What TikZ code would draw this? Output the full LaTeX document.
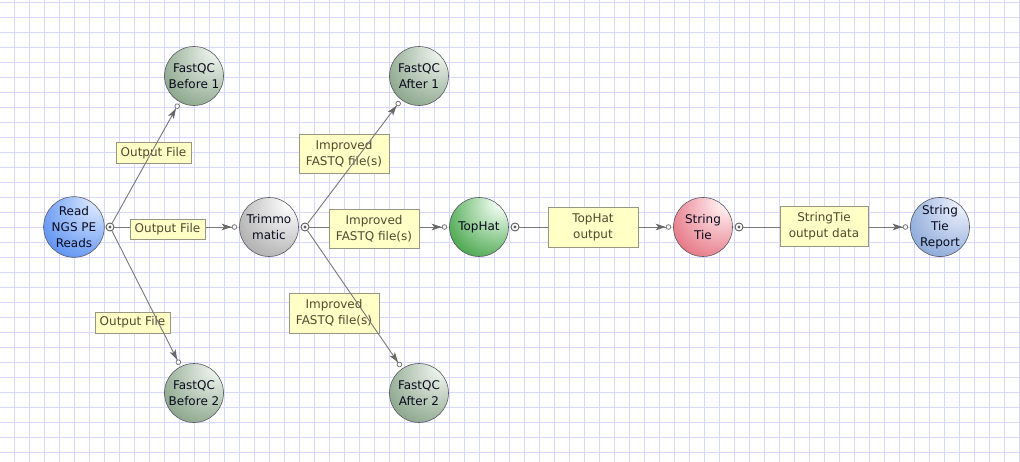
\documentclass[tikz,border=0pt]{standalone}
\usepackage{fontspec}
\newfontfamily\dv{DejaVu Sans}
\usetikzlibrary{arrows.meta}
\definecolor{gridc}{RGB}{216,216,252}
\definecolor{nodeline}{RGB}{90,90,100}
\definecolor{nodetext}{RGB}{10,10,30}
\definecolor{labfill}{RGB}{255,255,198}
\definecolor{labline}{RGB}{150,150,130}
\definecolor{labtext}{RGB}{85,70,50}
\definecolor{conncol}{RGB}{120,120,120}
\definecolor{tipcol}{RGB}{105,105,105}
\definecolor{portcol}{RGB}{95,95,95}
% node colours
\definecolor{readhi}{RGB}{215,230,255}
\definecolor{readbase}{RGB}{70,130,240}
\definecolor{readdk}{RGB}{30,80,190}
\definecolor{fqhi}{RGB}{235,242,235}
\definecolor{fqbase}{RGB}{120,150,120}
\definecolor{fqdk}{RGB}{75,100,75}
\definecolor{trhi}{RGB}{252,252,252}
\definecolor{trbase}{RGB}{160,160,160}
\definecolor{trdk}{RGB}{105,105,105}
\definecolor{thhi}{RGB}{240,252,240}
\definecolor{thbase}{RGB}{40,150,45}
\definecolor{thdk}{RGB}{15,100,20}
\definecolor{sthi}{RGB}{255,238,240}
\definecolor{stbase}{RGB}{225,95,112}
\definecolor{stdk}{RGB}{185,45,65}
\definecolor{rphi}{RGB}{235,240,252}
\definecolor{rpbase}{RGB}{120,155,210}
\definecolor{rpdk}{RGB}{70,105,170}
\pgfdeclareradialshading{shRead}{\pgfpoint{22bp}{24bp}}{color(0bp)=(readhi); color(6bp)=(readhi); color(50bp)=(readbase); color(88bp)=(readdk)}
\pgfdeclareradialshading{shFq}{\pgfpoint{22bp}{24bp}}{color(0bp)=(fqhi); color(6bp)=(fqhi); color(50bp)=(fqbase); color(88bp)=(fqdk)}
\pgfdeclareradialshading{shTr}{\pgfpoint{22bp}{24bp}}{color(0bp)=(trhi); color(6bp)=(trhi); color(50bp)=(trbase); color(88bp)=(trdk)}
\pgfdeclareradialshading{shTh}{\pgfpoint{22bp}{24bp}}{color(0bp)=(thhi); color(6bp)=(thhi); color(50bp)=(thbase); color(88bp)=(thdk)}
\pgfdeclareradialshading{shSt}{\pgfpoint{22bp}{24bp}}{color(0bp)=(sthi); color(6bp)=(sthi); color(50bp)=(stbase); color(88bp)=(stdk)}
\pgfdeclareradialshading{shRp}{\pgfpoint{22bp}{24bp}}{color(0bp)=(rphi); color(6bp)=(rphi); color(50bp)=(rpbase); color(88bp)=(rpdk)}
\tikzset{
  proc/.style={circle, minimum size=59pt, inner sep=0pt, draw=nodeline, line width=0.6pt,
    font=\dv\fontsize{12}{16}\selectfont, text=nodetext, align=center},
  lab/.style={draw=labline, fill=labfill, line width=0.7pt, inner sep=0pt,
    font=\dv\fontsize{12}{16}\selectfont, text=labtext, align=center},
  lab1/.style={lab, minimum width=75pt, minimum height=21pt},
  lab2/.style={lab, minimum width=90pt, minimum height=39pt},
  port/.style={circle, draw=portcol, fill=white, line width=0.9pt, minimum size=8pt, inner sep=0pt,
    path picture={\fill[portcol] (path picture bounding box.center) circle (1.7pt);}},
  conn/.style={draw=conncol, line width=0.9pt,
    -{Stealth[length=10pt,width=6.5pt,inset=2.5pt,color=tipcol] Circle[length=5.5pt,fill=white,line width=0.8pt]},
    shorten >=2pt},
  gline/.style={draw=gridc, line width=0.9pt}
}
\begin{document}
\begin{tikzpicture}[x=1pt,y=-1pt]
\useasboundingbox (0,0) rectangle (1020,462);
\fill[white] (0,0) rectangle (1020,462);
\foreach \i in {0,...,67} {\draw[gline] (14.3+15*\i,0) -- (14.3+15*\i,462);}
\foreach \j in {0,...,30} {\draw[gline] (0,2.3+15*\j) -- (1020,2.3+15*\j);}

% process nodes
\node[proc, shading=shRead] (read) at (74,227) {Read\\NGS PE\\Reads};
\node[proc, shading=shFq] (b1) at (194,76) {FastQC\\Before 1};
\node[proc, shading=shFq] (b2) at (194,393) {FastQC\\Before 2};
\node[proc, shading=shTr] (trim) at (269,227) {Trimmo\\matic};
\node[proc, shading=shFq] (a1) at (419,76) {FastQC\\After 1};
\node[proc, shading=shFq] (a2) at (419,393) {FastQC\\After 2};
\node[proc, shading=shTh] (top) at (479,227) {TopHat};
\node[proc, shading=shSt] (st) at (703,227) {String\\Tie};
\node[proc, shading=shRp] (rep) at (940,227) {String\\Tie\\Report};

% output ports
\node[port] (pR) at (110,227) {};
\node[port] (pT) at (305,227) {};
\node[port] (pH) at (515,227) {};
\node[port] (pS) at (739,227) {};

% horizontal connectors (under their labels)
\draw[conn] (pR) -- (trim);
\draw[conn] (pT) -- (top);
\draw[conn] (pH) -- (st);
\draw[conn] (pS) -- (rep);

% labels
\node[lab1] (l1) at (153.5,153) {Output File};
\node[lab1, minimum height=20pt] (l2) at (167.5,229) {Output File};
\node[lab1] (l3) at (132.5,322.5) {Output File};
\node[lab2] (l4) at (344,153.5) {Improved\\FASTQ file(s)};
\node[lab2] (l5) at (374,228.5) {Improved\\FASTQ file(s)};
\node[lab2, minimum height=40pt] (l6) at (334,313) {Improved\\FASTQ file(s)};
\node[lab2, minimum height=40pt] (l7) at (593,227) {TopHat\\output};
\node[lab2, minimum width=88pt, minimum height=40pt] (l8) at (824,226) {StringTie\\output data};

% diagonal connectors (over their labels)
\draw[conn] (pR) -- (b1);
\draw[conn] (pR) -- (b2);
\draw[conn] (pT) -- (a1);
\draw[conn] (pT) -- (a2);
\end{tikzpicture}
\end{document}
